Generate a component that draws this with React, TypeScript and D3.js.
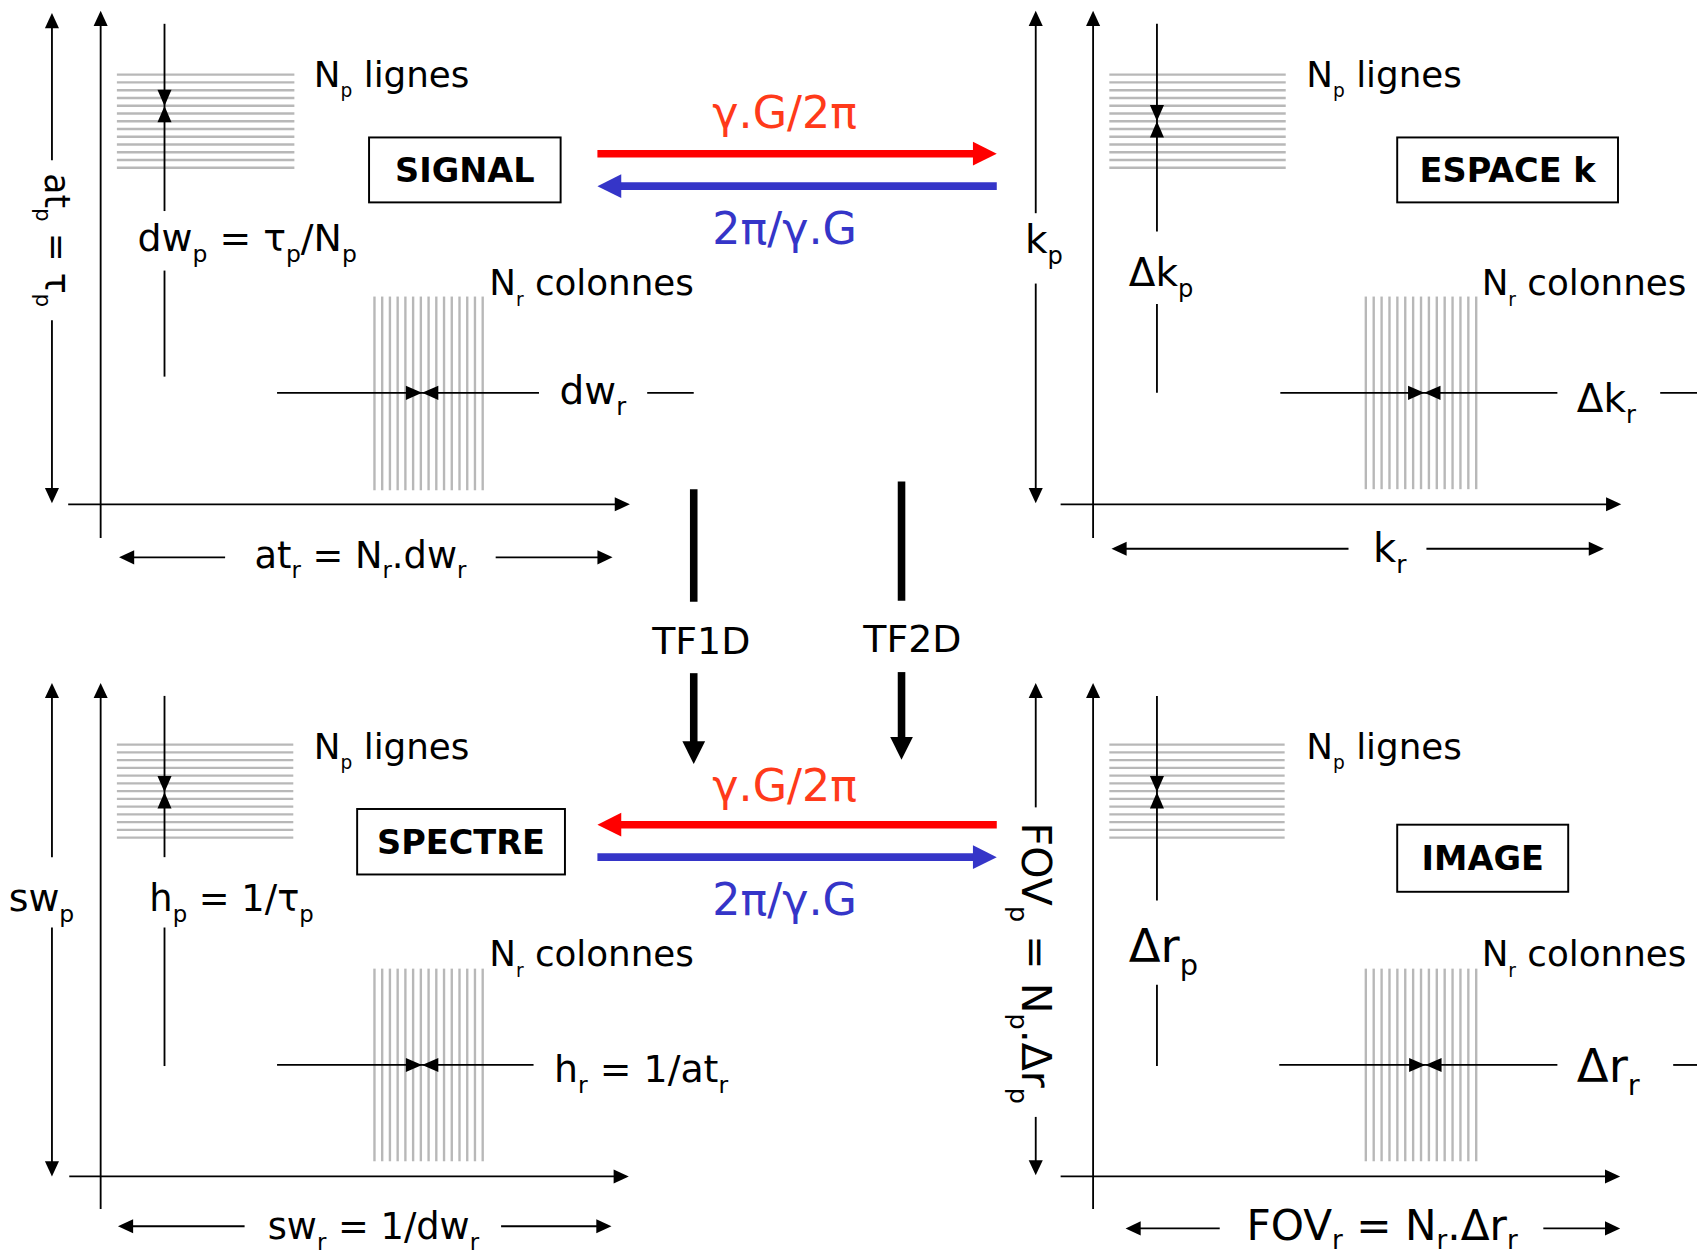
import React from "react";
import * as d3 from "d3";

type Seg = [string, number];

// ---------- content (data) ----------
const panelNames = ["SIGNAL", "ESPACE k", "SPECTRE", "IMAGE"];
const phaseLabel: Seg[] = [["N", 0], ["p", 1], [" lignes", 0]];
const readLabel: Seg[] = [["N", 0], ["r", 1], [" colonnes", 0]];
const phaseStepLabels: Seg[][] = [
  [["dw", 0], ["p", 1], [" = τ", 0], ["p", 1], ["/N", 0], ["p", 1]],
  [["Δk", 0], ["p", 1]],
  [["h", 0], ["p", 1], [" = 1/τ", 0], ["p", 1]],
  [["Δr", 0], ["p", 1]],
];
const readStepLabels: Seg[][] = [
  [["dw", 0], ["r", 1]],
  [["Δk", 0], ["r", 1]],
  [["h", 0], ["r", 1], [" = 1/at", 0], ["r", 1]],
  [["Δr", 0], ["r", 1]],
];
const phaseExtentLabels: Seg[][] = [
  [["at", 0], ["p", 1], [" = τ", 0], ["p", 1]],
  [["k", 0], ["p", 1]],
  [["sw", 0], ["p", 1]],
  [["FOV", 0], ["p", 1], [" = N", 0], ["p", 1], [".Δr", 0], ["p", 1]],
];
const readExtentLabels: Seg[][] = [
  [["at", 0], ["r", 1], [" = N", 0], ["r", 1], [".dw", 0], ["r", 1]],
  [["k", 0], ["r", 1]],
  [["sw", 0], ["r", 1], [" = 1/dw", 0], ["r", 1]],
  [["FOV", 0], ["r", 1], [" = N", 0], ["r", 1], [".Δr", 0], ["r", 1]],
];
const transformLabels = ["TF1D", "TF2D"];
const forwardLabel = "γ.G/2π";
const backwardLabel = "2π/γ.G";
const phaseLineCount = 13;
const readLineCount = 15;

// ---------- layout (in 1568-wide design units) ----------
const SCALE = 1697 / 1568;
const FONT = "'DejaVu Sans', Verdana, sans-serif";
const RED = "#ff0000";
const RED_TXT = "#ff3a1a";
const BLUE = "#3535c8";
const GRAY = "#b8b8b8";
const SW = 1.7;

const layout = [
  {
    ext: { x: 48, y1: 12, y2: 465, g1: 148, g2: 296, lx: 42, ly: 222, rot: true, size: 32 },
    ax: { x: 93, top: 10, bot: 497, y: 466, l: 63, r: 582 },
    hl: { x1: 108, x2: 272, y1: 69, y2: 155 },
    pl: { x: 152, y1: 22, y2: 348, g1: 195, g2: 250, tip: 98, lx: 127, ly: 232, size: 35 },
    lig: { x: 290, y: 80 },
    box: { x: 341, y: 127, w: 177, h: 60 },
    col: { x: 452, y: 273 },
    vl: { x1: 346, x2: 446, y1: 274, y2: 453 },
    rl: { y: 363, x1: 256, x2: 498, tip: 390, lx: 517, ly: 373, size: 36, d1: 598, d2: 641 },
    bot: { y: 515, x1: 110, x2: 566, g1: 208, g2: 458, lx: 333, ly: 525, size: 34 },
  },
  {
    ext: { x: 957, y1: 10, y2: 465, g1: 197, g2: 262, lx: 947, ly: 234, rot: false, size: 36 },
    ax: { x: 1010, top: 10, bot: 497, y: 466, l: 980, r: 1498 },
    hl: { x1: 1025, x2: 1188, y1: 69, y2: 155 },
    pl: { x: 1069, y1: 22, y2: 363, g1: 214, g2: 281, tip: 112, lx: 1043, ly: 264, size: 36 },
    lig: { x: 1207, y: 80 },
    box: { x: 1291, y: 127, w: 204, h: 60 },
    col: { x: 1369, y: 273 },
    vl: { x1: 1262, x2: 1364, y1: 274, y2: 452 },
    rl: { y: 363, x1: 1183, x2: 1439, tip: 1316, lx: 1457, ly: 381, size: 36, d1: 1534, d2: 1568 },
    bot: { y: 507, x1: 1027, x2: 1482, g1: 1246, g2: 1318, lx: 1284, ly: 519, size: 37 },
  },
  {
    ext: { x: 48, y1: 631, y2: 1087, g1: 792, g2: 857, lx: 8, ly: 842, rot: false, size: 35 },
    ax: { x: 93, top: 631, bot: 1117, y: 1087, l: 64, r: 581 },
    hl: { x1: 108, x2: 271, y1: 688, y2: 774 },
    pl: { x: 152, y1: 643, y2: 985, g1: 792, g2: 857, tip: 732, lx: 138, ly: 842, size: 34 },
    lig: { x: 290, y: 701 },
    box: { x: 330, y: 747.5, w: 192, h: 60.5 },
    col: { x: 452, y: 893 },
    vl: { x1: 346, x2: 446, y1: 895, y2: 1073 },
    rl: { y: 984, x1: 256, x2: 493, tip: 390, lx: 512, ly: 1000, size: 35, d1: 0, d2: 0 },
    bot: { y: 1133, x1: 109, x2: 565, g1: 226, g2: 463, lx: 345, ly: 1145, size: 34 },
  },
  {
    ext: { x: 957, y1: 631, y2: 1086, g1: 746, g2: 1032, lx: 944, ly: 890, rot: true, size: 38 },
    ax: { x: 1010, top: 631, bot: 1117, y: 1087, l: 980, r: 1497 },
    hl: { x1: 1025, x2: 1187, y1: 688, y2: 774 },
    pl: { x: 1069, y1: 643, y2: 985, g1: 832, g2: 910, tip: 732, lx: 1043, ly: 889, size: 43 },
    lig: { x: 1207, y: 701 },
    box: { x: 1291, y: 762, w: 158, h: 62 },
    col: { x: 1369, y: 893 },
    vl: { x1: 1262, x2: 1364, y1: 895, y2: 1073 },
    rl: { y: 984, x1: 1182, x2: 1439, tip: 1317, lx: 1457, ly: 1000, size: 43, d1: 1546, d2: 1568 },
    bot: { y: 1135, x1: 1040, x2: 1497, g1: 1127, g2: 1426, lx: 1277, ly: 1146, size: 39 },
  },
];

// ---------- helpers ----------
type Dir = "up" | "down" | "left" | "right";
function headPts(x: number, y: number, dir: Dir, len: number, hw: number) {
  const p: [number, number][] =
    dir === "up"
      ? [[x, y], [x - hw, y + len], [x + hw, y + len]]
      : dir === "down"
      ? [[x, y], [x - hw, y - len], [x + hw, y - len]]
      : dir === "left"
      ? [[x, y], [x + len, y - hw], [x + len, y + hw]]
      : [[x, y], [x - len, y - hw], [x - len, y + hw]];
  return p.map((d) => d.join(",")).join(" ");
}

function Head({ x, y, dir, len = 14, hw = 6.5, fill = "#000" }: any) {
  return <polygon points={headPts(x, y, dir, len, hw)} fill={fill} />;
}

function Ln({ x1, y1, x2, y2, w = SW, c = "#000" }: any) {
  return <line x1={x1} y1={y1} x2={x2} y2={y2} stroke={c} strokeWidth={w} />;
}

function Label({
  x,
  y,
  segs,
  size,
  anchor = "start",
  fill = "#000",
  weight = "normal",
  rot = 0,
  subScale = 0.62,
  subShift = 0.28,
}: any) {
  let prevSub = false;
  return (
    <text
      x={x}
      y={y}
      fontSize={size}
      fontFamily={FONT}
      fontWeight={weight}
      fill={fill}
      textAnchor={anchor}
      transform={rot ? `rotate(${rot},${x},${y})` : undefined}
      style={{ whiteSpace: "pre" }}
    >
      {segs.map(([t, sub]: Seg, i: number) => {
        let dy = 0;
        if (sub && !prevSub) dy = subShift * size;
        if (!sub && prevSub) dy = -subShift * size;
        prevSub = !!sub;
        return (
          <tspan key={i} dy={dy} fontSize={sub ? size * subScale : size}>
            {t}
          </tspan>
        );
      })}
    </text>
  );
}

function Panel({ i }: { i: number }) {
  const L = layout[i];
  const hy = d3.scaleLinear().domain([0, phaseLineCount - 1]).range([L.hl.y1, L.hl.y2]);
  const vx = d3.scaleLinear().domain([0, readLineCount - 1]).range([L.vl.x1, L.vl.x2]);
  const e = L.ext;
  const p = L.pl;
  const r = L.rl;
  const b = L.bot;
  const boxSize = 31;
  return (
    <g>
      {/* grids */}
      {d3.range(phaseLineCount).map((k) => (
        <line key={"h" + k} x1={L.hl.x1} x2={L.hl.x2} y1={hy(k)} y2={hy(k)} stroke={GRAY} strokeWidth={2.2} />
      ))}
      {d3.range(readLineCount).map((k) => (
        <line key={"v" + k} x1={vx(k)} x2={vx(k)} y1={L.vl.y1} y2={L.vl.y2} stroke={GRAY} strokeWidth={2.2} />
      ))}

      {/* extent (phase) double arrow */}
      <Ln x1={e.x} x2={e.x} y1={e.y1 + 8} y2={e.g1} />
      <Ln x1={e.x} x2={e.x} y1={e.g2} y2={e.y2 - 8} />
      <Head x={e.x} y={e.y1} dir="up" />
      <Head x={e.x} y={e.y2} dir="down" />
      <Label
        x={e.lx}
        y={e.ly}
        segs={phaseExtentLabels[i]}
        size={e.size}
        anchor={e.rot ? "middle" : "start"}
        rot={e.rot ? 90 : 0}
      />

      {/* axes */}
      <Ln x1={L.ax.x} x2={L.ax.x} y1={L.ax.top + 8} y2={L.ax.bot} />
      <Head x={L.ax.x} y={L.ax.top} dir="up" />
      <Ln x1={L.ax.l} x2={L.ax.r - 8} y1={L.ax.y} y2={L.ax.y} />
      <Head x={L.ax.r} y={L.ax.y} dir="right" />

      {/* phase step */}
      <Ln x1={p.x} x2={p.x} y1={p.y1} y2={p.g1} />
      <Ln x1={p.x} x2={p.x} y1={p.g2} y2={p.y2} />
      <Head x={p.x} y={p.tip} dir="down" len={15} hw={6.5} />
      <Head x={p.x} y={p.tip} dir="up" len={15} hw={6.5} />
      <Label x={p.lx} y={p.ly} segs={phaseStepLabels[i]} size={p.size} />

      {/* read step */}
      <Ln x1={r.x1} x2={r.x2} y1={r.y} y2={r.y} />
      {r.d2 > 0 && <Ln x1={r.d1} x2={r.d2} y1={r.y} y2={r.y} />}
      <Head x={r.tip} y={r.y} dir="right" len={15} hw={6.5} />
      <Head x={r.tip} y={r.y} dir="left" len={15} hw={6.5} />
      <Label x={r.lx} y={r.ly} segs={readStepLabels[i]} size={r.size} />

      {/* read extent double arrow */}
      <Ln x1={b.x1 + 8} x2={b.g1} y1={b.y} y2={b.y} />
      <Ln x1={b.g2} x2={b.x2 - 8} y1={b.y} y2={b.y} />
      <Head x={b.x1} y={b.y} dir="left" />
      <Head x={b.x2} y={b.y} dir="right" />
      <Label
        x={b.lx}
        y={b.ly}
        segs={readExtentLabels[i]}
        size={b.size}
        anchor="middle"
        subShift={i === 3 ? 0.2 : 0.28}
      />

      {/* labels */}
      <Label x={L.lig.x} y={L.lig.y} segs={phaseLabel} size={33} subScale={0.52} subShift={0.3} />
      <Label x={L.col.x} y={L.col.y} segs={readLabel} size={33} subScale={0.52} subShift={0.3} />

      {/* title box */}
      <rect x={L.box.x} y={L.box.y} width={L.box.w} height={L.box.h} fill="#fff" stroke="#000" strokeWidth={1.8} />
      <text
        x={L.box.x + L.box.w / 2}
        y={L.box.y + L.box.h / 2 + boxSize * 0.36}
        fontSize={boxSize}
        fontWeight="bold"
        fontFamily={FONT}
        textAnchor="middle"
      >
        {panelNames[i]}
      </text>
    </g>
  );
}

function Center() {
  const T = 7;
  const hl = 22;
  const hw = 11;
  const xl = 552;
  const xr = 921;
  const pairs = [
    { red: 142, blue: 172, redDir: "right", tRed: 118, tBlue: 225 },
    { red: 762, blue: 792, redDir: "left", tRed: 740, tBlue: 845 },
  ];
  const tf = [
    { x: 641, l1: 452, l2: 556, tx: 648, ty: 604, a1: 622, tip: 706 },
    { x: 833, l1: 445, l2: 555, tx: 843, ty: 602, a1: 621, tip: 702 },
  ];
  return (
    <g>
      {pairs.map((pp, k) => {
        const redRight = pp.redDir === "right";
        return (
          <g key={k}>
            <line
              x1={redRight ? xl : xl + hl - 1}
              x2={redRight ? xr - hl + 1 : xr}
              y1={pp.red}
              y2={pp.red}
              stroke={RED}
              strokeWidth={T}
            />
            <Head x={redRight ? xr : xl} y={pp.red} dir={redRight ? "right" : "left"} len={hl} hw={hw} fill={RED} />
            <line
              x1={redRight ? xl + hl - 1 : xl}
              x2={redRight ? xr : xr - hl + 1}
              y1={pp.blue}
              y2={pp.blue}
              stroke={BLUE}
              strokeWidth={T}
            />
            <Head x={redRight ? xl : xr} y={pp.blue} dir={redRight ? "left" : "right"} len={hl} hw={hw} fill={BLUE} />
            <text x={725} y={pp.tRed} fontSize={41} fontFamily={FONT} fill={RED_TXT} textAnchor="middle">
              {forwardLabel}
            </text>
            <text x={725} y={pp.tBlue} fontSize={41} fontFamily={FONT} fill={BLUE} textAnchor="middle">
              {backwardLabel}
            </text>
          </g>
        );
      })}
      {tf.map((t, k) => (
        <g key={"tf" + k}>
          <line x1={t.x} x2={t.x} y1={t.l1} y2={t.l2} stroke="#000" strokeWidth={T} />
          <line x1={t.x} x2={t.x} y1={t.a1} y2={t.tip - 20} stroke="#000" strokeWidth={T} />
          <Head x={t.x} y={t.tip} dir="down" len={21} hw={10.5} />
          <text x={t.tx} y={t.ty} fontSize={35} fontFamily={FONT} textAnchor="middle">
            {transformLabels[k]}
          </text>
        </g>
      ))}
    </g>
  );
}

export default function App() {
  return (
    <svg
      width={1697}
      height={1260}
      style={{ position: "absolute", left: 0, top: 0, background: "#fff" }}
    >
      <rect width={1697} height={1260} fill="#fff" />
      <g transform={`scale(${SCALE})`}>
        {[0, 1, 2, 3].map((i) => (
          <Panel key={i} i={i} />
        ))}
        <Center />
      </g>
    </svg>
  );
}
